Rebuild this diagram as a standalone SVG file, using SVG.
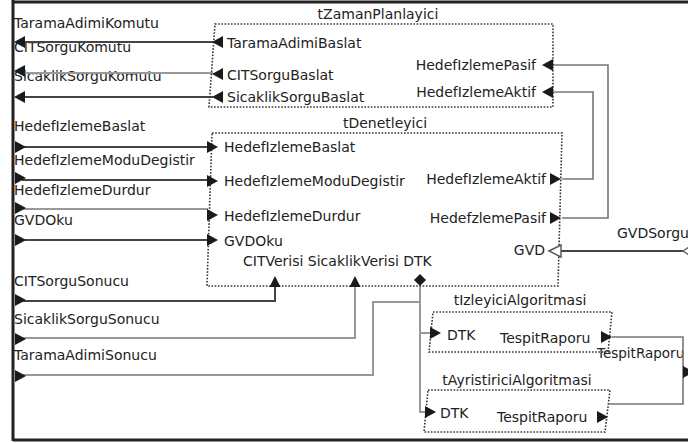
<svg xmlns="http://www.w3.org/2000/svg" xmlns:xlink="http://www.w3.org/1999/xlink" width="688" height="443" viewBox="0 0 688 443">
<style>
.t{font-family:"DejaVu Sans",Verdana,sans-serif;font-size:14px;fill:#222}
.e{text-anchor:end}
.m{text-anchor:middle}
.box{fill:none;stroke:#333;stroke-width:1.6;stroke-dasharray:1.6 1.6}
.dk{fill:none;stroke:#444;stroke-width:2}
.lt{fill:none;stroke:#999;stroke-width:2}
.md{fill:none;stroke:#777;stroke-width:1.6}
.ah{fill:#1a1a1a}
.frame{fill:none;stroke:#222;stroke-width:3}
</style>
<defs>
<path id="arR" d="M0,-6 L11,0 L0,6 Z"/>
<path id="arL" d="M11,-6 L0,0 L11,6 Z"/>
<path id="arU" d="M-5.5,0 L0,-11 L5.5,0 Z"/>
</defs>
<rect width="688" height="443" fill="#fff"/>
<g id="frame">
<path class="frame" d="M13,0 V441 M13,2 H688 M13,440 H688"/>
</g>
<g id="boundary-ports">
<text class="t" x="14" y="28">TaramaAdimiKomutu</text>
<text class="t" x="14" y="52">CITSorguKomutu</text>
<text class="t" x="14" y="81">SicaklikSorguKomutu</text>
<text class="t" x="14" y="131">HedefIzlemeBaslat</text>
<text class="t" x="14" y="165">HedefIzlemeModuDegistir</text>
<text class="t" x="14" y="195">HedefIzlemeDurdur</text>
<text class="t" x="14" y="225">GVDOku</text>
<text class="t" x="14" y="286">CITSorguSonucu</text>
<text class="t" x="14" y="324">SicaklikSorguSonucu</text>
<text class="t" x="14" y="360">TaramaAdimiSonucu</text>
<text class="t" x="617" y="238">GVDSorgu</text>
<text class="t" x="597" y="358" style="font-size:13.5px">TespitRaporu</text>
</g>
<g id="connectors">
<path class="dk" d="M24,42 H213"/>
<path class="lt" d="M24,73 H213"/>
<path class="dk" d="M24,97 H213"/>
<path class="dk" d="M22,147 H208"/>
<path class="dk" d="M22,180 H208"/>
<path class="lt" d="M22,209 H208"/>
<path class="dk" d="M22,240 H208"/>
<path class="dk" d="M22,301 H275 V287"/>
<path class="lt" d="M22,338 H355 V287"/>
<path class="lt" d="M22,375 H373 V302 H420"/>
<path class="lt" d="M420,286 V412 H426 M420,333 H431"/>
<path class="md" d="M553,65 H608 V218 H562"/>
<path class="md" d="M553,92 H593 V179 H562"/>
<path class="dk" d="M561,251 H684"/>
<path class="md" d="M612,337 H683 V404 H609"/>
<g class="ah">
<use xlink:href="#arL" x="14" y="42"/>
<use xlink:href="#arL" x="14" y="71"/>
<use xlink:href="#arL" x="14" y="97"/>
<use xlink:href="#arR" x="15" y="147"/>
<use xlink:href="#arR" x="15" y="178"/>
<use xlink:href="#arR" x="15" y="208"/>
<use xlink:href="#arR" x="15" y="240"/>
<use xlink:href="#arR" x="15" y="300"/>
<use xlink:href="#arR" x="15" y="339"/>
<use xlink:href="#arR" x="15" y="376"/>
<use xlink:href="#arR" x="683" y="372"/>
</g>
<polygon points="683,251 692,245 701,251 692,257" fill="#fff" stroke="#666" stroke-width="1.4"/>
</g>
<g id="tZamanPlanlayici">
<polygon class="box" points="215,24 553,24 553,107 209,107"/>
<text class="t m" x="378" y="19">tZamanPlanlayici</text>
<g class="ah">
<use xlink:href="#arL" x="212" y="42"/>
<use xlink:href="#arL" x="212" y="74"/>
<use xlink:href="#arL" x="212" y="97"/>
<use xlink:href="#arL" x="542" y="65"/>
<use xlink:href="#arL" x="542" y="92"/>
</g>
<text class="t" x="227" y="48">TaramaAdimiBaslat</text>
<text class="t" x="227" y="80">CITSorguBaslat</text>
<text class="t" x="227" y="102">SicaklikSorguBaslat</text>
<text class="t e" x="536" y="70">HedefIzlemePasif</text>
<text class="t e" x="536" y="97">HedefIzlemeAktif</text>
</g>
<g id="tDenetleyici">
<polygon class="box" points="212,133 562,133 558,286 207,286"/>
<text class="t m" x="385" y="128">tDenetleyici</text>
<g class="ah">
<use xlink:href="#arR" x="207" y="147"/>
<use xlink:href="#arR" x="207" y="181"/>
<use xlink:href="#arR" x="207" y="215"/>
<use xlink:href="#arR" x="207" y="240"/>
<use xlink:href="#arR" x="550" y="179"/>
<use xlink:href="#arR" x="550" y="218"/>
<use xlink:href="#arU" x="275" y="287"/>
<use xlink:href="#arU" x="355" y="287"/>
<polygon points="420,274 426,280 420,286 414,280"/>
</g>
<polygon points="549,251 561,245 561,257" fill="#fff" stroke="#555" stroke-width="1.4"/>
<text class="t" x="224" y="152">HedefIzlemeBaslat</text>
<text class="t" x="224" y="186">HedefIzlemeModuDegistir</text>
<text class="t" x="224" y="221">HedefIzlemeDurdur</text>
<text class="t" x="224" y="246">GVDOku</text>
<text class="t e" x="546" y="184">HedefIzlemeAktif</text>
<text class="t e" x="546" y="223">HedefzlemePasif</text>
<text class="t e" x="545" y="255">GVD</text>
<text class="t" x="243" y="266">CITVerisi SicaklikVerisi DTK</text>
</g>
<g id="tIzleyiciAlgoritmasi">
<polygon class="box" points="433,312 612,312 608,352 429,352"/>
<text class="t m" x="520" y="305">tIzleyiciAlgoritmasi</text>
<g class="ah">
<use xlink:href="#arR" x="430" y="333"/>
<use xlink:href="#arR" x="601" y="337"/>
</g>
<text class="t" x="447" y="340">DTK</text>
<text class="t" x="500" y="343">TespitRaporu</text>
</g>
<g id="tAyristiriciAlgoritmasi">
<polygon class="box" points="428,390 610,390 605,432 424,432"/>
<text class="t m" x="517" y="385">tAyristiriciAlgoritmasi</text>
<g class="ah">
<use xlink:href="#arR" x="425" y="412"/>
<use xlink:href="#arR" x="597" y="417"/>
</g>
<text class="t" x="440" y="418">DTK</text>
<text class="t" x="497" y="422">TespitRaporu</text>
</g>
</svg>
